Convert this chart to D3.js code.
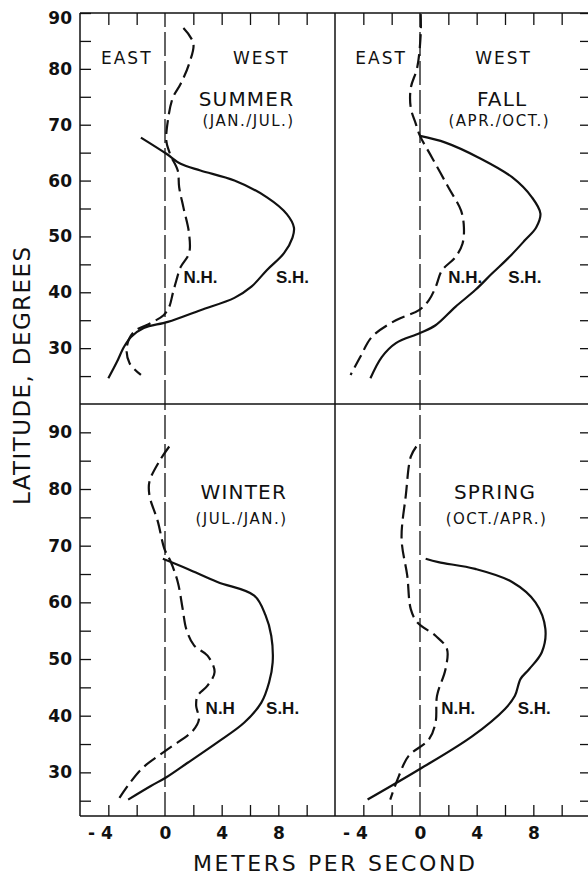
<!DOCTYPE html>
<html>
<head>
<meta charset="utf-8">
<script src="https://cdn.jsdelivr.net/npm/d3@7"></script>
<style>
  body { margin: 0; background: #fff; }
  text { fill: #111; font-family: "DejaVu Sans", "Liberation Sans", sans-serif; }
  .tick text { font-weight: bold; font-size: 17px; }
  .tick line { stroke: #111; stroke-width: 1.3; }
</style>
</head>
<body>
<svg id="chart"></svg>
<script>
// [latitude, wind m/s], N.H. dashed and S.H. solid
const summerNH = [[87.3,1.3],[84.6,2.0],[80.9,1.7],[77.3,1.1],[74.8,0.55],[70.7,0.2],[67,0.1],[64.5,0.4],[61.8,0.9],[58.8,1.0],[55.2,1.3],[50.5,1.7],[47,1.7],[44.5,1.1],[42.1,0.8],[39.8,0.55],[37.4,0.3],[35.9,-0.1],[34.5,-1.0],[32.9,-2.2],[30.2,-2.7],[27.3,-2.5],[25.2,-1.7]];
const summerSH = [[67.7,-1.7],[64.8,0.1],[63,1.1],[61.8,2.5],[60,4.9],[57,7.2],[54,8.6],[51.6,9.1],[49.8,9.0],[47,8.4],[44,7.2],[41,6.1],[39,4.9],[36.8,2.5],[34.7,0.2],[33.6,-1.5],[32,-2.4],[30.2,-2.9],[27.5,-3.4],[24.6,-4.0]];
const fallNH = [[89.8,0.05],[86.2,0.05],[80.2,-0.2],[76.6,-0.65],[73,-0.65],[70.2,-0.3],[68,0],[64.1,0.85],[58.8,2.0],[54.6,2.9],[51.6,3.1],[48.7,3.0],[46.3,2.5],[43.9,1.55],[40.9,1.1],[38.6,0.63],[36.8,-0.07],[35,-1.7],[32,-3.4],[28.5,-4.2],[25.2,-4.9]];
const fallSH = [[68,0],[66.8,1.8],[64.1,4.15],[60.6,6.5],[57,7.9],[54.1,8.5],[51.6,8.2],[49.3,7.4],[46.3,6.3],[43.4,5.1],[40.4,3.9],[37.4,2.5],[34.1,1.1],[32.7,0],[30.9,-1.7],[28.4,-2.7],[24.6,-3.5]];
const winterNH = [[87.5,0.3],[84.9,-0.4],[81.3,-1.1],[78.9,-1.1],[74.2,-0.5],[69.5,-0.05],[67.2,0.4],[63.6,0.9],[58.8,1.25],[55.3,1.5],[52.4,2.05],[50.6,3.0],[47.7,3.5],[45.3,3.0],[43.5,2.3],[41.7,2.2],[39.4,2.4],[37.3,1.95],[34.1,0.2],[30.5,-1.7],[25.2,-3.3]];
const winterSH = [[67.7,-0.15],[65.9,1.6],[63.6,3.7],[61.2,6.3],[57.7,7.1],[54.1,7.5],[49.4,7.6],[45.9,7.35],[42.3,6.8],[38.8,5.6],[35.3,3.7],[31.7,1.6],[29.1,0.07],[27.6,-1.0],[25.2,-2.6]];
const springNH = [[87.5,-0.26],[85.7,-0.65],[78.9,-1.0],[71.2,-1.3],[64.7,-0.9],[58.8,-0.65],[56.5,-0.2],[54.1,1.1],[51.8,1.9],[48.2,1.8],[43.5,1.2],[38.8,1.1],[35.8,0.63],[32.9,-0.8],[29.3,-1.5],[25.2,-2.1]];
const springSH = [[67.7,0.4],[67.1,1.3],[65.9,3.9],[63.6,6.5],[60,8.15],[55.3,8.85],[51.2,8.6],[48.2,7.7],[46.5,7.1],[43.5,6.7],[41.2,6.0],[36.4,3.7],[30.5,-0.07],[25.2,-3.7]];

const seasons = ["SUMMER", "FALL", "WINTER", "SPRING"];
const months = ["(JAN./JUL.)", "(APR./OCT.)", "(JUL./JAN.)", "(OCT./APR.)"];
const latTicks = [25, 30, 35, 40, 45, 50, 55, 60, 65, 70, 75, 80, 85, 90];
const speedTicks = [-4, -2, 0, 2, 4, 6, 8, 10];
const speedLabels = [-4, 0, 4, 8];

const width = 588, height = 875;
const frame = { left: 80, split: 335, right: 590, top: 13, mid: 404, bottom: 816 };

const svg = d3.select("#chart").attr("width", width).attr("height", height);

// scales: two columns, two rows (rows don't share the same latitude span)
const xLeft = d3.scaleLinear().domain([-6, 12]).range([frame.left, frame.split]);
const xRight = d3.scaleLinear().domain([-6, 12]).range([frame.split, frame.right]);
const yTop = d3.scaleLinear().domain([20, 90]).range([frame.mid, frame.top]);
const yBottom = d3.scaleLinear().domain([22.3, 95]).range([frame.bottom, frame.mid]);

const panels = [
  { x: xLeft,  y: yTop,    nh: summerNH, sh: summerSH, season: 0, ew: true,
    notes: { east: [-2.7, 80.9], west: [6.8, 80.9], title: [5.75, 73.4], sub: [5.9, 69.8], nh: [2.5, 41.6], sh: [9.0, 41.6] }, nhText: "N.H." },
  { x: xRight, y: yTop,    nh: fallNH,   sh: fallSH,   season: 1, ew: true,
    notes: { east: [-2.75, 80.9], west: [5.9, 80.9], title: [5.8, 73.4], sub: [5.6, 69.8], nh: [3.2, 41.6], sh: [7.4, 41.6] }, nhText: "N.H." },
  { x: xLeft,  y: yBottom, nh: winterNH, sh: winterSH, season: 2, ew: false,
    notes: { title: [5.56, 78.3], sub: [5.4, 73.9], nh: [3.9, 40.3], sh: [8.3, 40.3] }, nhText: "N.H" },
  { x: xRight, y: yBottom, nh: springNH, sh: springSH, season: 3, ew: false,
    notes: { title: [5.3, 78.3], sub: [5.4, 73.9], nh: [2.7, 40.3], sh: [8.06, 40.3] }, nhText: "N.H." }
];

const ink = "#111";

panels.forEach(p => {
  const g = svg.append("g");
  const [y0, y1] = p.y.range();

  // zero line
  g.append("line")
    .attr("x1", p.x(0)).attr("x2", p.x(0))
    .attr("y1", y0).attr("y2", y1)
    .attr("stroke", ink).attr("stroke-width", 1.3)
    .attr("stroke-dasharray", "24,5");

  const line = d3.line()
    .x(d => p.x(d[1]))
    .y(d => p.y(d[0]))
    .curve(d3.curveCatmullRom.alpha(0.5));

  g.append("path").datum(p.sh)
    .attr("d", line)
    .attr("fill", "none").attr("stroke", ink).attr("stroke-width", 2.2);

  g.append("path").datum(p.nh)
    .attr("d", line)
    .attr("fill", "none").attr("stroke", ink).attr("stroke-width", 2.2)
    .attr("stroke-dasharray", "14,6");

  // annotations
  const n = p.notes;
  const note = (txt, pos, size, spacing) => g.append("text")
    .attr("x", p.x(pos[0])).attr("y", p.y(pos[1]))
    .attr("text-anchor", "middle")
    .style("font-size", size + "px")
    .style("letter-spacing", spacing + "px")
    .text(txt);

  if (p.ew) {
    note("EAST", n.east, 17, 2);
    note("WEST", n.west, 17, 2);
  }
  note(seasons[p.season], n.title, 20, 1.2);
  note(months[p.season], n.sub, 15, 1.5);

  [[p.nhText, n.nh], ["S.H.", n.sh]].forEach(([txt, pos]) => {
    g.append("text")
      .attr("x", p.x(pos[0])).attr("y", p.y(pos[1]))
      .attr("text-anchor", "middle")
      .style("font-family", "'Liberation Sans', sans-serif")
      .style("font-weight", "bold").style("font-size", "17px")
      .text(txt);
  });

  // inward ticks
  const dom = p.y.domain();
  const lats = latTicks.filter(d => d > dom[0] && d <= dom[1]);

  if (p.x === xLeft) {
    const ax = g.append("g")
      .attr("transform", `translate(${frame.left},0)`)
      .call(d3.axisLeft(p.y).tickValues(lats)
        .tickSizeInner(-11).tickSizeOuter(0).tickPadding(8)
        .tickFormat(d => d % 10 === 0 ? d : ""));
    ax.select(".domain").remove();
    // top label sits just under the frame
    if (p.y === yTop) ax.selectAll(".tick").filter(d => d === 90).select("text").attr("y", 5);
  } else {
    const ax = g.append("g")
      .attr("transform", `translate(${frame.right},0)`)
      .call(d3.axisRight(p.y).tickValues(lats)
        .tickSizeInner(-10).tickSizeOuter(0).tickFormat(""));
    ax.select(".domain").remove();
  }

  if (p.y === yTop) {
    const ax = g.append("g")
      .attr("transform", `translate(0,${frame.top})`)
      .call(d3.axisTop(p.x).tickValues(speedTicks.filter(d => d !== 0))
        .tickSizeInner(-12).tickSizeOuter(0).tickFormat(""));
    ax.select(".domain").remove();
  } else {
    const ax = g.append("g")
      .attr("transform", `translate(0,${frame.bottom})`)
      .call(d3.axisBottom(p.x).tickValues(speedTicks)
        .tickSizeInner(-11).tickSizeOuter(0).tickPadding(11)
        .tickFormat(d => speedLabels.includes(d) ? (d < 0 ? "- " + Math.abs(d) : String(d)) : ""));
    ax.select(".domain").remove();
    ax.selectAll(".tick").filter(d => d === 0).select("line").remove();
    // negative labels keep the digit over the tick
    ax.selectAll(".tick").filter(d => d < 0).select("text")
      .attr("text-anchor", "end").attr("x", 4);
  }
});

// frame and dividers
const frameLines = [
  [frame.left, frame.top, frame.right, frame.top],
  [frame.left, frame.bottom, frame.right, frame.bottom],
  [frame.left, frame.top, frame.left, frame.bottom],
  [frame.right, frame.top, frame.right, frame.bottom],
  [frame.split, frame.top, frame.split, frame.bottom],
  [frame.left, frame.mid, frame.right, frame.mid]
];
svg.append("g").selectAll("line").data(frameLines).join("line")
  .attr("x1", d => d[0]).attr("y1", d => d[1])
  .attr("x2", d => d[2]).attr("y2", d => d[3])
  .attr("stroke", ink).attr("stroke-width", 1.5);

// axis titles
svg.append("text")
  .attr("transform", "translate(30,376) rotate(-90)")
  .attr("text-anchor", "middle")
  .attr("textLength", 258).attr("lengthAdjust", "spacing")
  .style("font-size", "23px")
  .text("LATITUDE, DEGREES");

svg.append("text")
  .attr("x", 334).attr("y", 871)
  .attr("text-anchor", "middle")
  .attr("textLength", 282).attr("lengthAdjust", "spacing")
  .style("font-size", "22px")
  .text("METERS PER SECOND");
</script>
</body>
</html>
